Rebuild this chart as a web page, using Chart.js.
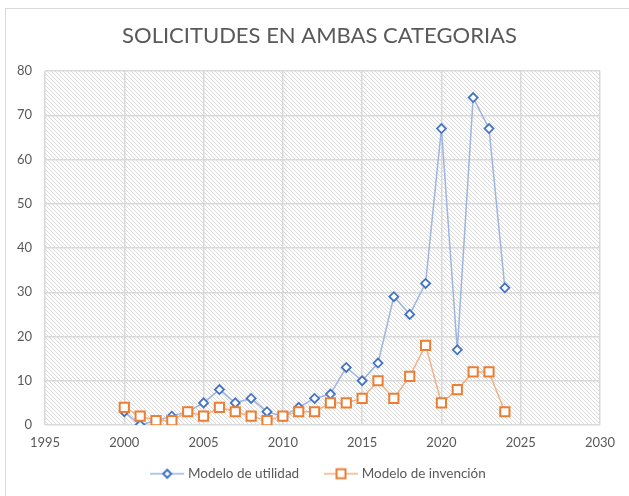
<!DOCTYPE html>
<html>
<head>
<meta charset="utf-8">
<script src="https://cdn.jsdelivr.net/npm/chart.js@4"></script>
<style>
  html, body { margin: 0; padding: 0; background: #fff; }
  #wrap { position: relative; width: 629px; height: 496px; }
</style>
</head>
<body>
<div id="wrap"><canvas id="chart"></canvas></div>
<script>
// datos
const years = [2000, 2001, 2002, 2003, 2004, 2005, 2006, 2007, 2008, 2009, 2010, 2011, 2012,
               2013, 2014, 2015, 2016, 2017, 2018, 2019, 2020, 2021, 2022, 2023, 2024];
const utilidad = [3, 0, 1, 2, 3, 5, 8, 5, 6, 3, 2, 4, 6, 7, 13, 10, 14, 29, 25, 32, 67, 17, 74, 67, 31];
const invencion = [4, 2, 1, 1, 3, 2, 4, 3, 2, 1, 2, 3, 3, 5, 5, 6, 10, 6, 11, 18, 5, 8, 12, 12, 3];
const xTicks = [1995, 2000, 2005, 2010, 2015, 2020, 2025, 2030];
const yTicks = [0, 10, 20, 30, 40, 50, 60, 70, 80];

const blue = '#4472C4', blueLine = '#9DB5E0';
const orange = '#ED7D31', orangeLine = '#F4B183';
const txt = '#595959', grid = '#d9d9d9';
const font = 'Lato, "Open Sans", sans-serif';

function pts(xs, ys) {
  return xs.map((x, i) => ({ x: x, y: ys[i] }));
}

// patron rayado del area de trazado
function makeHatch() {
  const c = document.createElement('canvas');
  c.width = 4; c.height = 4;
  const g = c.getContext('2d');
  g.fillStyle = '#ffffff';
  g.fillRect(0, 0, 4, 4);
  g.fillStyle = '#d9d9d9';
  for (let i = 0; i < 4; i++) g.fillRect(i, i, 1, 1);
  return c;
}

// icono de leyenda: linea + marcador
function legendIcon(lineColor, markColor, style) {
  const c = document.createElement('canvas');
  c.width = 34; c.height = 14;
  const g = c.getContext('2d');
  g.strokeStyle = lineColor; g.lineWidth = 1.5;
  g.beginPath(); g.moveTo(0, 7); g.lineTo(34, 7); g.stroke();
  g.fillStyle = '#fff'; g.strokeStyle = markColor; g.lineWidth = 2;
  g.beginPath();
  if (style === 'diamond') {
    g.moveTo(17, 3); g.lineTo(21, 7); g.lineTo(17, 11); g.lineTo(13, 7); g.closePath();
  } else {
    g.rect(12.5, 2.5, 9, 9);
  }
  g.fill(); g.stroke();
  return c;
}

const hatch = makeHatch();
const iconU = legendIcon(blueLine, blue, 'diamond');
const iconI = legendIcon(orangeLine, orange, 'square');

const bgPlugin = {
  id: 'bg',
  beforeDraw(chart) {
    const { ctx, chartArea: a } = chart;
    ctx.save();
    ctx.fillStyle = '#fff';
    ctx.fillRect(0, 0, chart.width, chart.height);
    ctx.strokeStyle = grid; ctx.lineWidth = 1;
    ctx.strokeRect(5.5, 8.5, 640, 520);
    ctx.fillStyle = ctx.createPattern(hatch, 'repeat');
    ctx.fillRect(a.left, a.top, a.right - a.left, a.bottom - a.top);
    ctx.restore();
  }
};

new Chart(document.getElementById('chart'), {
  type: 'line',
  data: {
    datasets: [{
      label: 'Modelo de utilidad',
      data: pts(years, utilidad),
      order: 2,
      borderColor: blueLine,
      borderWidth: 1.5,
      pointStyle: 'rectRot',
      pointRadius: 4.5,
      pointBorderColor: blue,
      pointBackgroundColor: '#fff',
      pointBorderWidth: 1.8,
      legendIcon: iconU
    }, {
      label: 'Modelo de invención',
      data: pts(years, invencion),
      order: 1,
      borderColor: orangeLine,
      borderWidth: 1.5,
      pointStyle: 'rect',
      pointRadius: 6.5,
      pointBorderColor: orange,
      pointBackgroundColor: '#fff',
      pointBorderWidth: 2,
      legendIcon: iconI
    }]
  },
  options: {
    responsive: true,
    maintainAspectRatio: false,
    animation: false,
    layout: { padding: { left: 10, right: 0, top: 0, bottom: 5.5 } },
    scales: {
      x: {
        type: 'linear',
        min: 1995, max: 2030,
        afterBuildTicks: s => { s.ticks = xTicks.map(v => ({ value: v })); },
        afterFit: s => { s.height = 26; },
        grid: { color: grid, lineWidth: 1.5, drawTicks: false },
        border: { display: false },
        ticks: { color: txt, font: { family: font, size: 13 }, padding: 10, maxRotation: 0,
                 callback: v => String(v) }
      },
      y: {
        min: 0, max: 80,
        afterBuildTicks: s => { s.ticks = yTicks.map(v => ({ value: v })); },
        afterFit: s => { s.width = 35; },
        grid: { color: grid, lineWidth: 1.5, drawTicks: false },
        border: { display: false },
        ticks: { color: txt, font: { family: font, size: 13 }, padding: 13 }
      },
      yRight: {
        position: 'right',
        min: 0, max: 80,
        afterFit: s => { s.width = 29; },
        grid: { display: false },
        border: { display: false },
        ticks: { display: false }
      }
    },
    plugins: {
      title: {
        display: true,
        text: 'SOLICITUDES EN AMBAS CATEGORIAS',
        color: txt,
        font: { family: font, size: 22, weight: 'normal' },
        padding: { top: 23, bottom: 21.6 }
      },
      legend: {
        position: 'bottom',
        labels: {
          color: txt,
          font: { family: font, size: 13.5 },
          usePointStyle: true,
          pointStyleWidth: 28,
          padding: 16,
          generateLabels: chart => chart.data.datasets.map((d, i) => ({
            // espacio extra entre las dos entradas
            text: i === 0 ? d.label + '\u2003\u2009' : d.label,
            pointStyle: d.legendIcon,
            fontColor: txt,
            datasetIndex: i,
            hidden: false,
            lineWidth: 0
          }))
        }
      },
      tooltip: { enabled: false }
    }
  },
  plugins: [bgPlugin]
});
</script>
</body>
</html>
